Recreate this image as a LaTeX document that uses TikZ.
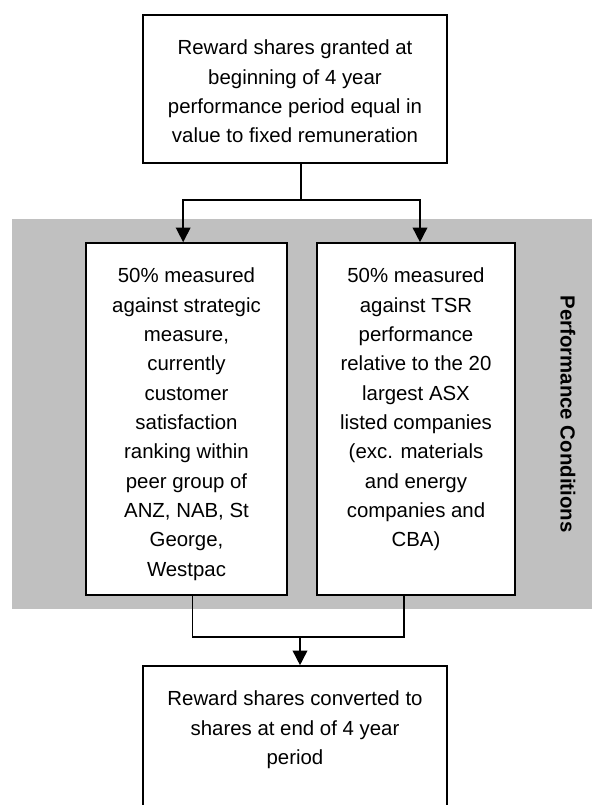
\documentclass[tikz,border=0pt]{standalone}
\usepackage{fontspec}
\setmainfont{Liberation Sans}
\usetikzlibrary{arrows.meta,fit,calc}
\definecolor{panelgray}{RGB}{192,192,192}
\tikzset{
  box/.style={draw=black, line width=1.2pt, fill=white, inner sep=0pt, rectangle},
  txt/.style={align=center, inner sep=0pt, font=\fontsize{15.3pt}{22pt}\selectfont},
  link/.style={line width=1.2pt, draw=black},
  arr/.style={link, -{Triangle[width=11pt,length=11pt]}},
}
\begin{document}
\begin{tikzpicture}[x=0.75pt,y=-0.75pt]
\useasboundingbox (0,0) rectangle (592,805);
\clip (0,0) rectangle (592,805);
% grey panel
\fill[panelgray] (12,219) rectangle (592,609);
\node[rotate=-90, font=\fontsize{15.3pt}{18pt}\selectfont\bfseries] (pc) at (568,414) {Performance Conditions};
% boxes
\node[box, fit={(143,15) (447,163)}] (top) {};
\node[box, fit={(86,243) (287,595)}] (left) {};
\node[box, fit={(317,243) (515,595)}] (right) {};
\node[box, fit={(143,666) (447,840)}] (bottom) {};
% texts
\node[txt, anchor=north] (toptxt) at ($(top.north)+(0,25.6)$)
  {Reward shares granted at\\beginning of 4 year\\performance period equal in\\value to fixed remuneration};
\node[txt, anchor=north] (lefttxt) at ($(left.north)+(0,25.6)$)
  {50\% measured\\against strategic\\measure,\\currently\\customer\\satisfaction\\ranking within\\peer group of\\ANZ, NAB, St\\George,\\Westpac};
\node[txt, anchor=north] (righttxt) at ($(right.north)+(0,25.6)$)
  {50\% measured\\against TSR\\performance\\relative to the 20\\largest ASX\\listed companies\\(exc. materials\\and energy\\companies and\\CBA)};
\node[txt, anchor=north] (bottomtxt) at ($(bottom.north)+(0,25.6)$)
  {Reward shares converted to\\shares at end of 4 year\\period};
% connectors
\coordinate (split) at (301,200);
\coordinate (merge) at (300,637);
\draw[link] (split |- top.south) -- (split);
\draw[arr] (split) -| ([xshift=-2.5]left.north);
\draw[arr] (split) -| ([xshift=3]right.north);
\draw[link] ([xshift=4.5]left.south) |- (merge);
\draw[link] ([xshift=-9]right.south) |- (merge);
\draw[arr] (merge) -- (merge |- bottom.north);
\end{tikzpicture}
\end{document}
